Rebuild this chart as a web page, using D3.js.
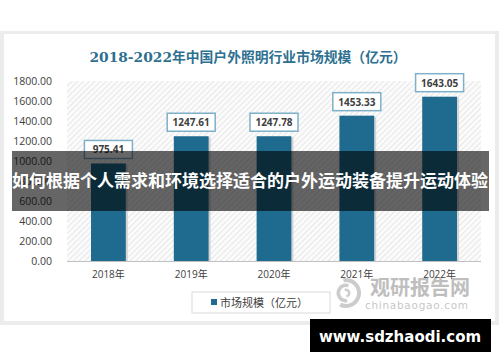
<!DOCTYPE html>
<html><head><meta charset="utf-8">
<script src="https://cdn.jsdelivr.net/npm/d3@7/dist/d3.min.js"></script>
<style>html,body{margin:0;padding:0;background:#fff;}svg{display:block;}</style>
</head><body>
<svg id="c" width="500" height="362"></svg>
<script>
const categories = ["2018年","2019年","2020年","2021年","2022年"];
const values = [975.41, 1247.61, 1247.78, 1453.33, 1643.05];
const yTicks = [0,200,400,600,800,1000,1200,1400,1600,1800];
const titleText = "2018-2022年中国户外照明行业市场规模（亿元）";
const legendText = "市场规模（亿元）";
const overlayText = "如何根据个人需求和环境选择适合的户外运动装备提升运动体验";
const siteText = "www.sdzhaodi.com";

const svg = d3.select("#c");
const barColor = "#1f6b8f";

const defs = svg.append("defs");
const pat = defs.append("pattern").attr("id","hatch").attr("patternUnits","userSpaceOnUse")
  .attr("width",4).attr("height",4).attr("patternTransform","rotate(45)");
pat.append("rect").attr("width",4).attr("height",4).attr("fill","#fbfbfb");
pat.append("line").attr("x1",0).attr("y1",0).attr("x2",0).attr("y2",4).attr("stroke","#e2e2e2").attr("stroke-width",1.6);

svg.append("rect").attr("x",0).attr("y",31).attr("width",499).attr("height",294).attr("fill","#ececec");
svg.append("rect").attr("x",4).attr("y",34).attr("width",491).attr("height",287).attr("fill","#fff");

svg.append("text").attr("x",248).attr("y",62).attr("text-anchor","middle")
  .attr("font-family","'DejaVu Serif','Noto Sans CJK SC',serif").attr("font-weight","bold")
  .attr("font-size",13.8).attr("fill","#2e7090").text(titleText);

const x = d3.scaleBand().domain(categories).range([67,481]).paddingInner(0.58).paddingOuter(0.29);
const y = d3.scaleLinear().domain([0,1800]).range([261,81]);

svg.append("rect").attr("x",67).attr("y",y(1800)).attr("width",414).attr("height",y(0)-y(1800)).attr("fill","url(#hatch)");

const yAxis = d3.axisLeft(y).tickValues(yTicks).tickFormat(d3.format(".2f")).tickSize(0).tickPadding(0);
const ya = svg.append("g").attr("transform","translate(52,0)").call(yAxis);
ya.select(".domain").remove();
ya.selectAll("text").attr("font-family","'Open Sans',sans-serif").attr("font-size",10.5).attr("fill","#404040");

svg.selectAll("rect.sh").data(values).enter().append("rect")
  .attr("x",(d,i)=>x(categories[i])+2).attr("y",d=>y(d)+1).attr("width",x.bandwidth()).attr("height",d=>y(0)-y(d)-1)
  .attr("fill","#d4d4d4");
svg.selectAll("rect.bar").data(values).enter().append("rect")
  .attr("x",(d,i)=>x(categories[i])).attr("y",d=>y(d)).attr("width",x.bandwidth()).attr("height",d=>y(0)-y(d))
  .attr("fill",barColor);

svg.append("line").attr("x1",67).attr("x2",481).attr("y1",y(0)+0.5).attr("y2",y(0)+0.5).attr("stroke","#c0c0c0");

const xAxis = d3.axisBottom(x).tickSize(0).tickPadding(0);
const xa = svg.append("g").attr("transform","translate(0,271)").call(xAxis);
xa.select(".domain").remove();
xa.selectAll("text").attr("font-family","'Open Sans','Noto Sans CJK SC',sans-serif").attr("font-size",10).attr("fill","#404040");

const lab = svg.selectAll("g.lab").data(values).enter().append("g")
  .attr("transform",(d,i)=>`translate(${x(categories[i])+x.bandwidth()/2},${y(d)-5})`);
lab.append("rect").attr("x",-24).attr("y",-18).attr("width",48).attr("height",18)
  .attr("fill","#fff").attr("stroke","#7fb0c9").attr("stroke-width",1.5);
lab.append("text").attr("x",0).attr("y",-5).attr("text-anchor","middle")
  .attr("font-family","'Open Sans',sans-serif").attr("font-weight","bold").attr("font-size",10).attr("fill","#404040")
  .text(d=>d3.format(".2f")(d));

svg.append("rect").attr("x",192).attr("y",292).attr("width",138).attr("height",21).attr("fill","#fff").attr("stroke","#d9d9d9");
svg.append("rect").attr("x",211).attr("y",299).attr("width",6).attr("height",6).attr("fill",barColor);
svg.append("text").attr("x",220).attr("y",307).attr("font-family","'Noto Sans CJK SC',sans-serif")
  .attr("font-size",11).attr("fill","#404040").text(legendText);

// watermark
const wm = svg.append("g").attr("opacity",0.5).attr("transform","translate(346,293)");
wm.append("path").attr("d",d3.arc()({innerRadius:11,outerRadius:15,startAngle:-0.2,endAngle:3.6})).attr("fill","#9a9a9a");
wm.append("path").attr("d",d3.arc()({innerRadius:6,outerRadius:9.5,startAngle:3.0,endAngle:6.6})).attr("fill","#9a9a9a");
wm.append("path").attr("d",d3.arc()({innerRadius:2,outerRadius:4.5,startAngle:-0.4,endAngle:3.0})).attr("fill","#9a9a9a");
const wm2 = svg.append("g").attr("opacity",0.55);
wm2.append("text").attr("x",370).attr("y",295).attr("font-family","'Noto Sans CJK SC',sans-serif").attr("font-weight","bold")
  .attr("font-size",20).attr("fill","#8a8a8a").text("观研报告网");
wm2.append("text").attr("x",365).attr("y",309).attr("font-family","'DejaVu Sans',sans-serif")
  .attr("font-size",10.5).attr("fill","#9a9a9a").attr("textLength",103).text("chinabaogao.com");

svg.append("rect").attr("x",12).attr("y",151).attr("width",477).attr("height",60).attr("fill","rgba(0,0,0,0.6)");
svg.append("text").attr("x",250).attr("y",187).attr("text-anchor","middle")
  .attr("font-family","'Noto Sans CJK SC',sans-serif").attr("font-weight","bold").attr("font-size",17)
  .attr("fill","#fff").text(overlayText);

svg.append("rect").attr("x",310).attr("y",319).attr("width",181).attr("height",33).attr("fill","#000");
svg.append("text").attr("x",400).attr("y",342).attr("text-anchor","middle")
  .attr("font-family","'DejaVu Sans',sans-serif").attr("font-weight","bold").attr("font-size",15)
  .attr("fill","#fff").text(siteText);
</script>
</body></html>
